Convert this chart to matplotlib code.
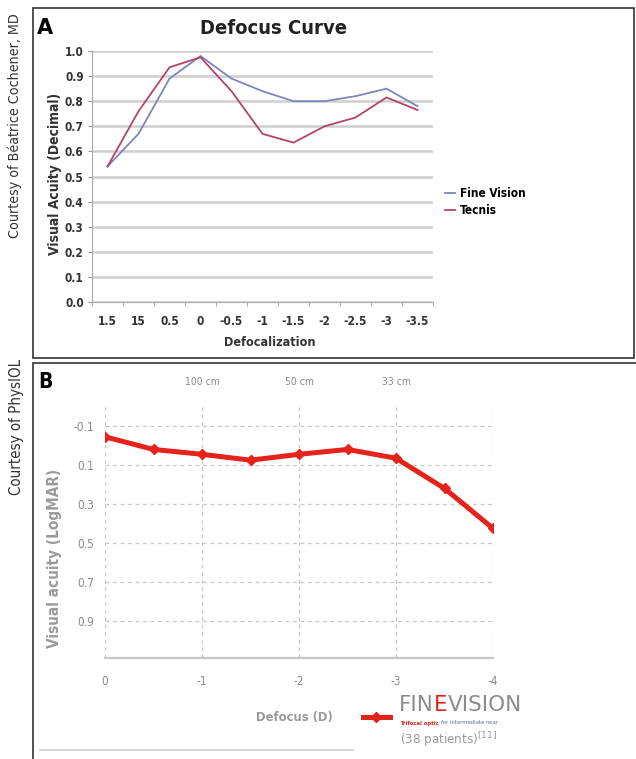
import matplotlib.pyplot as plt
from matplotlib.lines import Line2D
from matplotlib.patches import Rectangle

# panel A: defocus curve (decimal acuity)
defocus_a = ["1.5", "15", "0.5", "0", "-0.5", "-1", "-1.5", "-2", "-2.5", "-3", "-3.5"]
fine_vision = [0.54, 0.67, 0.89, 0.98, 0.89, 0.84, 0.80, 0.80, 0.82, 0.85, 0.78]
tecnis = [0.54, 0.76, 0.935, 0.975, 0.84, 0.67, 0.635, 0.70, 0.735, 0.815, 0.765]

# panel B: FineVision LogMAR curve
defocus_b = [0, -0.5, -1, -1.5, -2, -2.5, -3, -3.5, -4]
logmar = [-0.045, 0.02, 0.045, 0.075, 0.045, 0.02, 0.065, 0.22, 0.425]
distance_pos = [-1, -2, -3]
distance_labels = ["100 cm", "50 cm", "33 cm"]

W, H = 636, 759
NARROW = "DejaVu Sans"
ST = "condensed"


def fx(px):
    return px / W


def fy(py):
    return 1 - py / H


fig = plt.figure(figsize=(W / 100, H / 100), dpi=100)

# frames and side credits
fig.add_artist(Rectangle((fx(33), fy(358)), fx(636 - 33 - 2), (358 - 8) / H,
                         transform=fig.transFigure, fill=False, ec="#333333", lw=1.2))
fig.add_artist(Rectangle((fx(33), fy(800)), fx(636), (800 - 363) / H,
                         transform=fig.transFigure, fill=False, ec="#333333", lw=1.2))
fig.text(fx(15), fy(126), "Courtesy of Béatrice Cochener, MD", rotation=90,
         ha="center", va="center", fontsize=10.2, family=NARROW, stretch=ST,
         color="#333333")
fig.text(fx(17), fy(427), "Courtesy of PhysIOL", rotation=90,
         ha="center", va="center", fontsize=10.8, family=NARROW, stretch=ST,
         color="#333333")

# ---------------- panel A ----------------
fig.text(fx(37), fy(28), "A", fontsize=15, fontweight="bold", va="center")
axA = fig.add_axes([fx(92), fy(302), fx(433 - 92), (302 - 51) / H])
xa = list(range(len(defocus_a)))
axA.plot(xa, fine_vision, color="#7f84bd", lw=1.3, label="Fine Vision")
axA.plot(xa, tecnis, color="#b2446a", lw=1.3, label="Tecnis")
axA.set_xlim(-0.5, len(defocus_a) - 0.5)
axA.set_ylim(0, 1.0)
axA.set_yticks([i / 10 for i in range(11)])
axA.set_yticklabels([f"{i / 10:.1f}" for i in range(11)])
axA.set_xticks(xa)
axA.set_xticklabels(defocus_a)
axA.set_xticks([i - 0.5 for i in range(len(defocus_a) + 1)], minor=True)
axA.tick_params(axis="x", which="major", length=0, pad=9)
axA.tick_params(axis="x", which="minor", length=3, color="#999999")
axA.tick_params(axis="y", length=3, color="#999999", pad=3)
for lab in axA.get_xticklabels() + axA.get_yticklabels():
    lab.set_family(NARROW)
    lab.set_stretch(ST)
    lab.set_fontweight("bold")
    lab.set_fontsize(8.5)
    lab.set_color("#333333")
axA.grid(axis="y", color="#cfcfcf", lw=1.8)
axA.set_axisbelow(True)
for s in ["top", "right"]:
    axA.spines[s].set_visible(False)
for s in ["left", "bottom"]:
    axA.spines[s].set_color("#aaaaaa")
fig.text(fx(273), fy(28), "Defocus Curve", fontsize=14.5, fontweight="bold",
         family=NARROW, stretch=ST, ha="center", va="center", color="#222222")
fig.text(fx(55), fy(174), "Visual Acuity (Decimal)", rotation=90, ha="center",
         va="center", fontsize=10, fontweight="bold", family=NARROW, stretch=ST,
         color="#333333")
fig.text(fx(270), fy(342), "Defocalization", ha="center", va="center",
         fontsize=9, fontweight="bold", family=NARROW, stretch=ST,
         color="#333333")
axA.legend(loc="center left", bbox_to_anchor=(fx(434), fy(202)),
           bbox_transform=fig.transFigure, frameon=False, handlelength=0.9,
           handletextpad=0.4, labelspacing=0.35,
           prop={"family": NARROW, "stretch": ST, "weight": "bold", "size": 8.5})

# ---------------- panel B ----------------
fig.text(fx(38), fy(382), "B", fontsize=15, fontweight="bold", va="center",
         family=NARROW, stretch=ST)
axB = fig.add_axes([fx(105), fy(658), fx(493 - 105), (658 - 405) / H])
red = "#e5231b"
line_b, = axB.plot(defocus_b, logmar, color=red, lw=3.6, marker="D", ms=5.5,
                   mec=red, mfc=red)
axB.set_xlim(0, -4)
axB.set_ylim(1.09, -0.208)
axB.set_xticks([0, -1, -2, -3, -4])
axB.set_xticklabels(["0", "-1", "-2", "-3", "-4"])
axB.set_yticks([-0.1, 0.1, 0.3, 0.5, 0.7, 0.9])
axB.set_yticklabels(["-0.1", "0.1", "0.3", "0.5", "0.7", "0.9"])
axB.tick_params(length=0, labelsize=8.5, labelcolor="#8a8a8a")
axB.tick_params(axis="x", pad=12)
axB.tick_params(axis="y", pad=8)
for lab in axB.get_xticklabels() + axB.get_yticklabels():
    lab.set_family(NARROW)
    lab.set_stretch(ST)
axB.grid(True, ls=(0, (3, 3)), color="#c4c8cf", lw=0.9)
axB.set_axisbelow(True)
for s in ["top", "right", "left"]:
    axB.spines[s].set_visible(False)
axB.spines["bottom"].set_color("#c8c8c8")
axB.spines["bottom"].set_linewidth(1.6)
for xp, lab in zip(distance_pos, distance_labels):
    axB.text(xp, 1.09, lab, transform=axB.get_xaxis_transform(), ha="center",
             va="center", fontsize=7.5, color="#8a8a8a", family=NARROW,
             stretch=ST)
fig.text(fx(55), fy(558), "Visual acuity (LogMAR)", rotation=90, ha="center",
         va="center", fontsize=11, fontweight="bold", color="#9a9a9a",
         family=NARROW, stretch=ST)
fig.text(fx(294), fy(718), "Defocus (D)", ha="center", va="center",
         fontsize=9.3, fontweight="bold", color="#9a9a9a", family=NARROW,
         stretch=ST)

axB.legend(handles=[line_b], labels=[""], loc="center left",
           bbox_to_anchor=(fx(350), fy(718)), bbox_transform=fig.transFigure,
           frameon=False, handlelength=2.0, handletextpad=0)
t1 = fig.text(fx(399), fy(705), "FIN", fontsize=15.5, color="#8c8c8c",
              va="center", family="DejaVu Sans")
a2 = axB.annotate("E", xy=(1, 0), xycoords=t1, va="bottom", ha="left",
                  fontsize=15.5, color=red, family="DejaVu Sans",
                  annotation_clip=False)
axB.annotate("VISION", xy=(1, 0), xycoords=a2, va="bottom", ha="left",
             fontsize=15.5, color="#8c8c8c", family="DejaVu Sans",
             annotation_clip=False)
t3 = fig.text(fx(400), fy(723), "Trifocal optic ", fontsize=3.8, color=red,
              va="center", fontweight="bold")
axB.annotate("for intermediate near", xy=(1, 0), xycoords=t3, va="bottom",
             ha="left", fontsize=3.8, color="#5a6f99", annotation_clip=False)
fig.text(fx(400), fy(740), r"(38 patients)$^{[11]}$", fontsize=9.5,
         color="#9a9a9a", va="center", family=NARROW, stretch=ST)
fig.add_artist(Line2D([fx(40), fx(353)], [fy(750), fy(750)],
                      transform=fig.transFigure, color="#d5d5d5", lw=1.5))

fig.savefig("out.png", dpi=100)
plt.close(fig)
